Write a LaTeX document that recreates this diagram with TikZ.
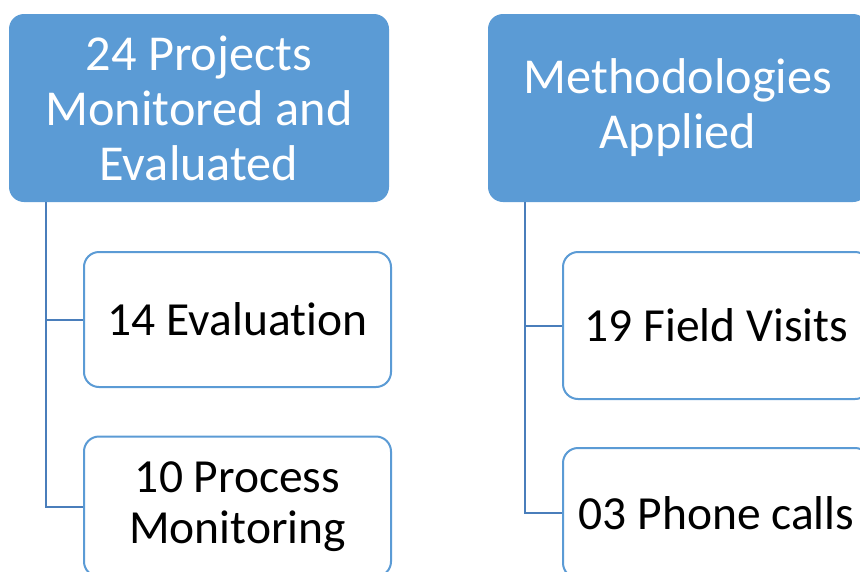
\documentclass[tikz,border=0pt]{standalone}
\usepackage{fontspec}
\setmainfont[Ligatures=NoCommon]{Carlito}
\definecolor{accent}{HTML}{5B9BD5}
\definecolor{linkblue}{HTML}{4A7EBB}
\begin{document}
\begin{tikzpicture}[x=1pt,y=-1pt,
  headbox/.style={draw=none,fill=accent,rounded corners=15pt,
    minimum width=380pt,minimum height=188pt,align=center,text=white,
    font=\fontsize{50.3}{55}\selectfont,inner sep=0pt},
  itembox/.style={draw=accent,line width=2pt,fill=white,rounded corners=15pt,
    minimum width=307pt,align=center,text=black,
    font=\fontsize{47.5}{51}\selectfont,inner sep=0pt},
  link/.style={draw=linkblue,line width=2pt}]
\useasboundingbox (0,0) rectangle (860,571);
\clip (0,0) rectangle (860,571);
% column 1
\node[headbox] (p) at (199,108) {24 Projects\\Monitored and\\Evaluated};
\node[itembox,minimum height=135pt] (eval) at (237.5,319.5) {14 Evaluation};
\node[itembox,minimum height=140pt] (proc) at (237.5,506.5) {10 Process\\Monitoring};
\coordinate (ptrunk) at ([xshift=37pt]p.south west);
\draw[link] (ptrunk) |- (eval.west);
\draw[link] (ptrunk) |- (proc.west);
% column 2
\node[headbox] (m) at (678,108) {Methodologies\\Applied};
\node[itembox,minimum height=147pt] (field) at (716.5,325.5) {19 Field Visits};
\node[itembox,minimum height=130pt] (phone) at (716.5,513) {03 Phone calls};
\coordinate (mtrunk) at ([xshift=37pt]m.south west);
\draw[link] (mtrunk) |- (field.west);
\draw[link] (mtrunk) |- (phone.west);
\end{tikzpicture}
\end{document}
